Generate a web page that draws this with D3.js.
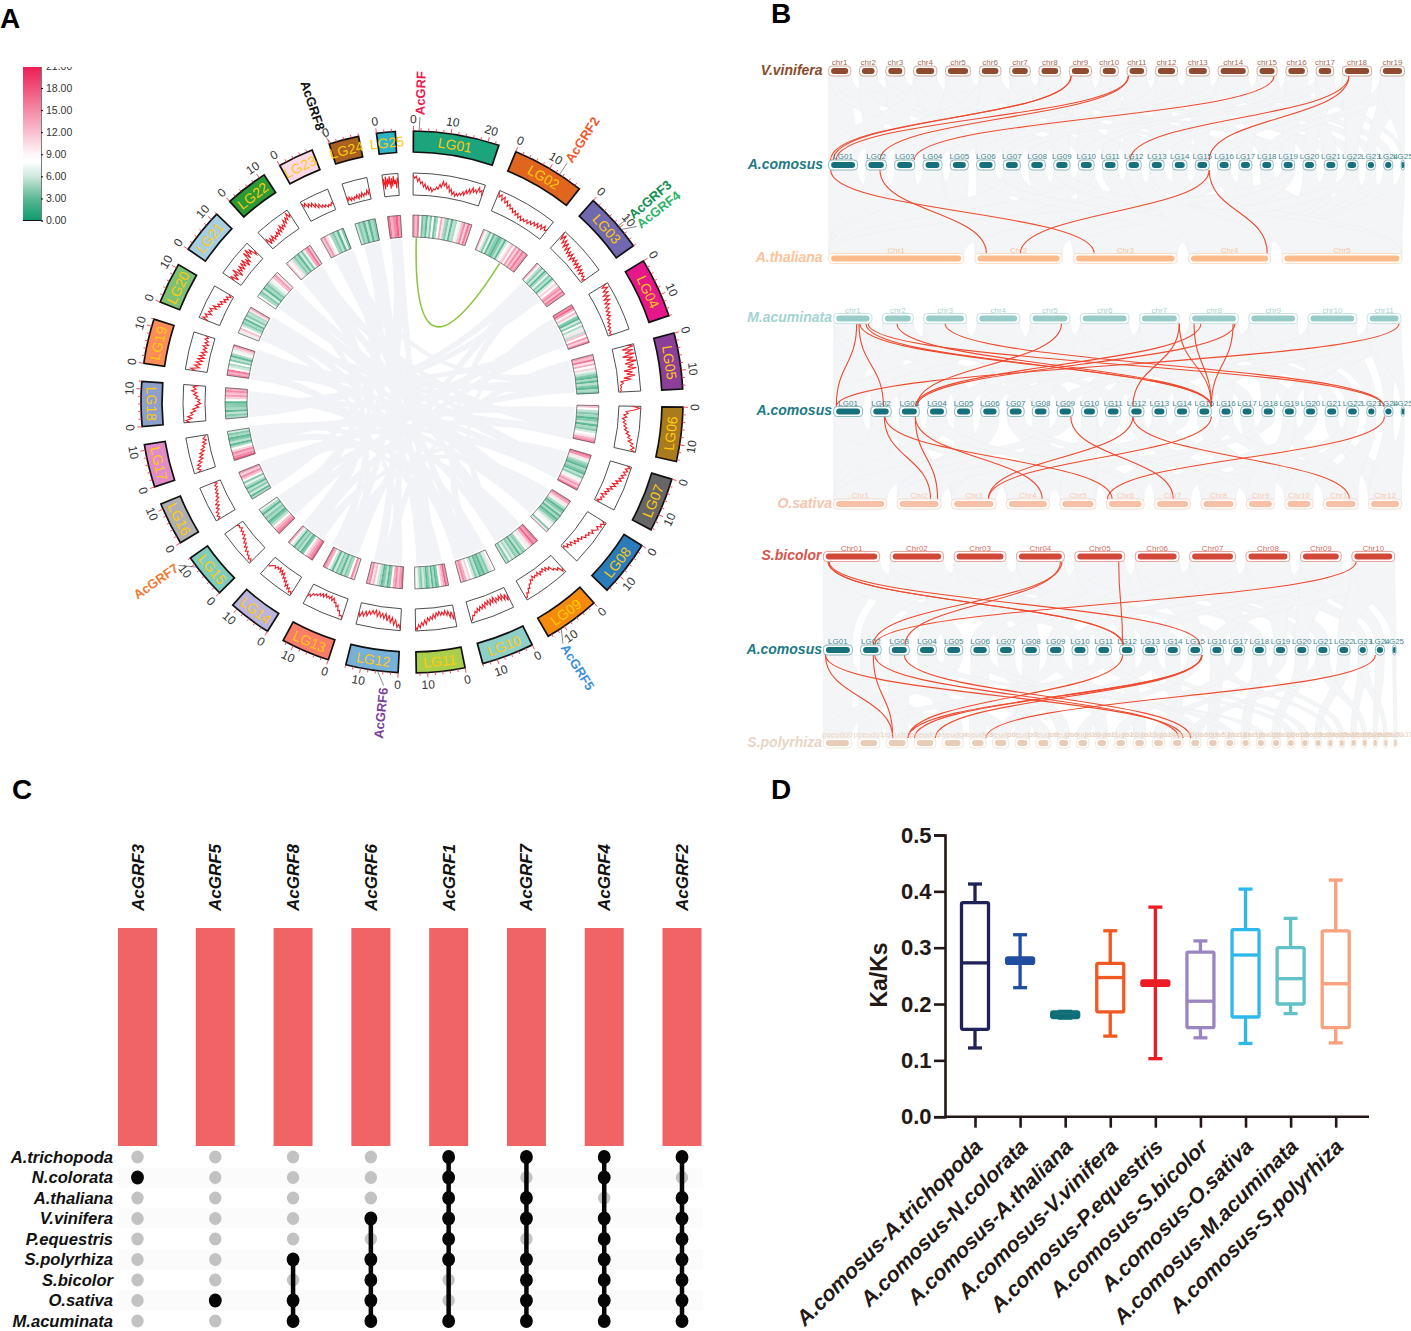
<!DOCTYPE html>
<html><head><meta charset="utf-8">
<script src="https://cdn.jsdelivr.net/npm/d3@7/dist/d3.min.js"></script>
<style>html,body{margin:0;background:#fff}svg{display:block}text{font-family:"Liberation Sans",Arial,sans-serif}</style>
</head><body><svg id="c" width="1411" height="1331"></svg>
<script>
// ---------- Panel A data ----------
const lgNames=["LG01","LG02","LG03","LG04","LG05","LG06","LG07","LG08","LG09","LG10","LG11","LG12","LG13","LG14","LG15","LG16","LG17","LG18","LG19","LG20","LG21","LG22","LG23","LG24","LG25"];
const lgLengths=[23,19.5,16,16,15,14.5,14.5,15,15,14,13,14,13,11.5,12,11.5,11.5,12,12,11,12,11.5,9.5,8,5];
const lgColors=["#1ca47c","#e0651e","#7068b0","#e5178b","#8a3f98","#aa7a1e","#666666","#2a7cba","#f58a0c","#8ed0c8","#a9cf4d","#77b0d8","#f97d68","#bcb5dc","#7fcdbd","#b0b0b0","#e08cc8","#8da0cb","#fc8d59","#7dc274","#a6cee3","#2a9a35","#fcd9e8","#a8611f","#2cb4c4"];
const legendTicks=[0,3,6,9,12,15,18,21];
const heatStops=[0,3,6,8,9,12,15,18,21];
const heatColors=["#0c9a6b","#5cb994","#cfe9de","#ffffff","#fff6f8","#f8bfd0","#f48aa6","#f0527c","#ec1c4f"];
const redTrack=[
[9,7.5,8.5,6,7.5,5,6,3.5,5,2.5,4,2,3.5,1.5,3,2.5,4,3,5.5,4,7,5,6.5,4,5.5,2.5,4,1.5,3,1,2.5,1.5,3,2,4,2.5,5,3.5,6,4,7,5,6.5,5,8,6,7,4.5],
[9.5,7,8.5,6,8,5.5,7,4.5,6,4,5,3,4.5,2.5,4,2,3.5,1.5,3,2,3.5,2,4,2.5,4.5,3,5,3,5.5,3.5,6,4,5],
[9.5,6,9,5,7.5,4,7,3.5,6,3,5,2.5,5,2,4.5,2.5,4.5,2,4,1.5,4,1.5,3.5,1,3,1.5,2.5,.5,2],
[9,6.5,9,6,8,5,7.5,4.5,7,4,6,3.5,5,3,4.5,2.5,4,2,3,1.5,2.5,1,2,.5,1.5,.5,1.5],
[7,9.5,4,9,5,9.5,3.5,8.5,5,9.5,4,8,5,9,3,7,4,8,2.5,6,1,2,.5,1,.5,.8,.3],
[6,9.5,7,3,4,2,3.5,1.5,3,2,3.5,2.5,4,3,5,4,6,5,7,5.5,8,7,9,7.5,9.5],
[8,9.5,7.5,9,7,8.5,6.5,8,6,7.5,5,6.5,4,6,3.5,5,2.5,4,2,3.5,1,3,1.5,2.5,.5,2],
[8,9.5,8,9,7,8.5,7.5,6,7.5,5.5,6.5,5,6,4,5,3,4.5,2.5,4,1.5,3,1,2.5,.5,1.5],
[7.5,9,6,7,5,5.5,3,4,2,3.5,1.5,3,2,3.5,1.5,3,2,3,1.5,3.5,2.5,4.5,4,6,5.5,7.5,7,9,8.5],
[3,6,2.5,5,2,4.5,2,4,2.5,4.5,1.5,4,2,4.5,2,4,2.5,5,3,5,3.5,5.5,4,6,5,7,6.5,8.5,9],
[3,6.5,2.5,5,2,4,1.5,3.5,2,3.5,1.5,3.5,2,4.5,2.5,5,3.5,5.5,4,7,5,7.5,6,8.5,7,9.5,8],
[9.5,7,8.5,5,7.5,4,6.5,3,6,2.5,5,2.5,4.5,2,4.5,1.5,3.5,2,4,2.5,5,3,5.5,3.5,6,4],
[9.5,8,8.5,6,6.5,4,5,3,3.5,1.5,3,1,2.5,1.5,2.5,1,3,1.5,3,2,3.5,3,4,3.5,5.5,4.5,6],
[9.5,8,9,7,8,6,7.5,5,6,4,5,2.5,4,2,3.5,1.5,3,2,3.5,2.5,3,3.5,4.5,4],
[9.5,8,9,7.5,8,6.5,7.5,5.5,6.5,4.5,5.5,3.5,4.5,2.5,3.5,2,3,1.5,2.5,2,3],
[9,7.5,8.5,7,8,6,7,5,6.5,4.5,5.5,3.5,4.5,3,4,2.5,3.5,2,3,1.5,3],
[8,6.5,8,6,7.5,5,6.5,4,5.5,3.5,5,2.5,4,2,3,1,2.5,.5,2,1,.5],
[7,9,6,8,5.5,6.5,4,5.5,2.5,4,1.5,3,2,4,3,5,3.5,6,4,5.5,3],
[5,7.5,3.5,6,3,5.5,2.5,5,2,4.5,2,4,1.5,3.5,2,4,1.5,3.5,2,4,2.5,4],
[5.5,8.5,6.5,8,5,7,5.5,7,4,6,3,4.5,2.5,4,1.5,3,1,2.5,.5,2],
[3.5,6,2,5,3.5,7,1.5,5,3,5.5,2.5,6,3,6.5,2,5,3,8,4,8.5,5,7,3,5],
[3,5,1.5,4,2,4.5,2,3.5,2.5,4.5,2.5,5,3,6,3.5,5.5,4,7,5,7.5,6,9,6.5,8],
[9,7,8.5,6,7.5,5.5,7,4.5,6,3.5,5,3,4,2.5,3.5,2,3,2,3.5,2.5],
[3.5,1.5,3,1,2.5,1,2.5,1.5,3,1,3,1.5,3.5,1.5,3,2,4,2,4.5],
[5,8,3,9,4,8,5,9,3,8,4,9,5,7,3,8,5]];
const heatBins=[
[14,12,16,9,3.5,5,3,6,4,8,3.5,5,8,13,10,5,4,6,3,5.5,5,9,7,12,15,11,16,13],
[12,9,6,4,7,3,5,4,3,4,5.5,3,6,8,10,12,9,14,11,15,12,16,13,15],
[13,9,5.5,4,6,3,5,7,4,5.5,3,6,9,11,8,13,15,12,16,14],
[15,17,13,9,12,7,4,3,6,4,8,5,7,10,5.5,12,8,14,11,15],
[14,12,16,10,13,8,11,7,5.5,4,3,5,3,5.5,4,3,5,4],
[12,8,5.5,4,5,3,4,5.5,3,5,4,6,8,10,13,15],
[16,14,10,7,5,4,3,5,4,3,5.5,4,7,9,11,14,12,16],
[15,13,10,7,5,3,4,5.5,3,5,3,4,5.5,7,9,8,4,10],
[16,14,17,13,10,7,9,5,4,5.5,3,5,4,6,5,7,4,5.5],
[8,10,6,4,5,3,4,3,5.5,4,6,8,11,9,13,15,12],
[14,17,13,11,8,4,3,5,3,5.5,4,3,5,6,4,5,7,9],
[16,14,12,15,13,9,4,3,5.5,4,3,5,6,9,12,10,15,13],
[11,15,8,5,4,5.5,3,5,4,6,3,5.5,8,13,15],
[17,15,13,11,8,4,3,5.5,4,5,3,6,9,13],
[16,14,12,9,5.5,4,3,5,4,5.5,3,5,7],
[5,3,6,4,5.5,3,5,7,4,9,12,15,11,14],
[17,15,13,15,11,8,5,3,5.5,4,3,5,4,6],
[5,4,5.5,3,5,4,4,3,8,11,14,12,15,13],
[15,13,16,9,6,5,8,4,5.5,3,5,9,7,11,14],
[7,10,12,8,5.5,4,5,3,6,4,5.5,5,10,13],
[8,5,4,6,3,5,4,5.5,7,9,12,14,10],
[11,8,10,5.5,4,5,3,6,4,7,13,16,12],
[12,14,10,8,5,4,5.5,3,7,4],
[6,4,5,3,5.5,3,5,4],
[16,13,15,17,14]];
const ribbons=[[2,7,9,6],[3,12,13,8],[24,3,10,5],[23,4,14,7],[2,5,12,4],[2,10,17,5],[3,3,8,9],[3,9,15,5],[4,2,11,7],[4,11,19,4],[5,3,16,6],[5,10,21,6],[6,4,12,10],[6,11,18,7],[7,3,13,3],[7,10,20,5],[8,3,15,9],[8,11,22,4],[9,2,17,9],[9,11,19,8],[10,3,16,3],[10,10,21,2],[11,3,18,2],[11,11,23,4],[12,6,19,3],[12,12,20,9],[13,6,22,7],[13,10,24,2],[14,3,21,9],[14,10,4,12],[15,2,23,3],[15,10,5,12],[16,9,6,12],[17,2,2,3],[17,8,7,12],[18,4,3,12],[18,10,4,8],[19,6,5,7],[20,3,6,8],[20,10,7,7],[21,5,8,7],[22,3,9,9],[22,8,10,7],[23,6,11,5],[24,3,12,8],[8,12,18,11],[9,12,16,10],[3,6,14,3],[5,13,17,7],[7,12,19,10],[4,6,22,5],[6,8,21,8]];
const greenLink=[0,1.5,1,12.2];
const geneNames=["AcGRF","AcGRF2","AcGRF3","AcGRF4","AcGRF5","AcGRF6","AcGRF7","AcGRF8"];
const geneChrom=[0,1,2,2,8,11,14,23];
const genePos=[1.5,13,9.4,10.6,11,5.5,9,0.5];
const geneLabelAngle=[1.6,33,49.6,52,148,185.7,235,341.5];
const geneColors=["#ee1c4f","#f0582c","#0e8f4f","#2db36a","#3d8fd8","#7c3f9d","#ee7b30","#111111"];

// ---------- Panel B data ----------
const vvLen=[22,17.5,19,23,25,21.5,20.5,21.5,22,18,19.5,22,23,30,20,21.5,17.5,29,24];
const acLen=[29,20.5,20,19,18,18.4,17,16.7,16.3,15.8,15.4,15,14.5,14.5,14,13,13,13,13,13,13,12.4,9,9,3.4];
const atLen=[135,87,103.5,82,120];
const maLen=[38.5,31,43,43,40,49,40,49,49,49,34];
const osLen=[53,44,44.5,43,36,37.7,36,35,28,28,34.7,33];
const sbLen=[56.5,53.5,52,48,50,44,46,44,41,43];
const spLen=[27,21,21,20.5,20,16,15.5,14,14,12.5,12,12,12,12,12,11.5,11,10.5,9.5,8.5,8.5,8.5,7.5,7,6,5,5,5,4,4,3.5,3];
const vvNames=d3.range(1,20).map(i=>"chr"+i);
const acNames=lgNames;
const atNames=["Chr1","Chr2","Chr3","Chr4","Chr5"];
const maNames=d3.range(1,12).map(i=>"chr"+i);
const osNames=d3.range(1,13).map(i=>"Chr"+i);
const sbNames=["Chr01","Chr02","Chr03","Chr04","Chr05","Chr06","Chr07","Chr08","Chr09","Chr10"];
const spNames=d3.range(0,32).map(i=>"pseudo"+i);
const linkVvAc=[[8,.08,0,.07],[8,.08,0,.16],[10,.07,0,.26],[10,.07,1,.69],[14,.85,2,.98],[17,.22,11,.26],[17,.22,14,1]];
const linkAcAt=[[0,.07,2,.2],[1,.69,1,.13],[14,1,1,.52],[14,1,3,.96]];
const linkMaAc=[[0,.6,0,.09],[0,.66,1,.62],[0,.68,14,1],[0,.84,14,1],[1,.47,14,1],[0,.9,23,0],[2,.5,23,0],[4,.79,2,.87],[6,1,11,.26],[6,1,14,1],[7,.09,14,1],[7,.89,14,1],[7,.23,2,.8],[7,.93,2,.87],[10,.94,0,.09]];
const linkAcOs=[[1,.66,1,.76],[1,.7,5,.15],[2,.8,1,.92],[2,.8,3,.83],[8,.84,6,.52],[11,.26,2,.83],[11,.26,10,.75],[14,1,2,.83],[23,.05,5,.03]];
const linkSbAc=[[0,.08,11,.26],[0,.1,14,.84],[0,.09,11,.2],[3,.95,1,.62],[3,.92,2,.79],[4,.88,11,.2],[9,.1,1,.69]];
const linkAcSp=[[0,.07,2,.3],[0,.07,15,1],[1,.62,2,.3],[1,.69,15,.62],[2,.75,16,.1],[11,.2,2,1],[14,1,2,1],[14,.96,3,0],[14,.98,3,.98],[23,0,5,1]];
const grayVvAc=[[0,0],[0,3],[0,8],[1,1],[1,5],[1,11],[2,2],[2,6],[2,14],[3,0],[3,4],[3,9],[4,3],[4,7],[4,16],[5,1],[5,5],[5,12],[6,6],[6,10],[6,18],[7,2],[7,8],[7,15],[8,0],[8,9],[8,13],[9,4],[9,11],[9,20],[10,1],[10,10],[10,17],[11,7],[11,12],[11,21],[12,5],[12,14],[12,19],[13,3],[13,13],[13,22],[14,9],[14,16],[14,23],[15,11],[15,18],[15,20],[16,6],[16,19],[16,24],[17,12],[17,15],[17,21],[18,17],[18,22],[18,24]];
const grayAcAt=[[0,0],[1,0],[2,0],[3,1],[4,0],[5,1],[6,0],[7,2],[8,1],[9,2],[10,3],[11,1],[12,2],[13,3],[14,2],[15,4],[16,3],[17,4],[18,2],[19,4],[20,3],[21,4],[22,4],[23,4],[24,4],[3,0],[6,2],[9,0],[12,4],[15,1],[18,0],[21,2],[5,3],[8,4],[11,3]];
const grayMaAc=[[0,0],[0,2],[0,7],[1,1],[1,4],[1,10],[2,2],[2,3],[2,8],[3,0],[3,5],[3,12],[4,3],[4,6],[4,14],[5,1],[5,7],[5,11],[5,16],[6,4],[6,9],[6,13],[6,18],[7,5],[7,10],[7,15],[7,20],[8,6],[8,12],[8,17],[8,21],[9,8],[9,14],[9,19],[9,22],[10,11],[10,18],[10,23],[10,24]];
const grayAcOs=[[0,0],[0,2],[1,0],[1,4],[2,1],[2,3],[3,0],[4,2],[5,1],[6,5],[7,3],[8,0],[9,6],[10,2],[11,7],[12,4],[13,1],[14,8],[15,5],[16,9],[17,3],[18,10],[19,6],[20,11],[21,7],[22,10],[23,11],[24,11],[3,5],[6,8],[9,4],[12,9],[15,10],[18,8],[21,9]];
const graySbAc=[[0,0],[0,4],[0,9],[1,1],[1,6],[1,13],[2,2],[2,7],[2,15],[3,3],[3,10],[3,12],[4,5],[4,11],[4,17],[5,8],[5,14],[5,19],[6,6],[6,16],[6,20],[7,9],[7,18],[7,22],[8,12],[8,19],[8,23],[9,15],[9,21],[9,24]];
const grayAcSp=[[0,0],[0,3],[1,1],[1,6],[2,2],[2,8],[3,4],[4,0],[5,5],[6,9],[7,7],[8,3],[9,11],[10,1],[11,13],[12,6],[13,15],[14,10],[15,17],[16,12],[17,19],[18,14],[19,21],[20,16],[21,24],[22,27],[23,29],[24,31],[5,18],[10,22],[15,25],[20,28],[3,20],[8,16],[12,23],[17,26],[22,30]];

// ---------- Panel C data ----------
const upGenes=["AcGRF3","AcGRF5","AcGRF8","AcGRF6","AcGRF1","AcGRF7","AcGRF4","AcGRF2"];
const upBars=[1,1,1,1,1,1,1,1];
const upSpecies=["A.trichopoda","N.colorata","A.thaliana","V.vinifera","P.equestris","S.polyrhiza","S.bicolor","O.sativa","M.acuminata"];
const upMembers=[[1],[7],[5,7,8],[3,5,6,7,8],[0,1,2,3,4,5,8],[0,2,3,5,6,7,8],[0,1,3,4,5,6,7,8],[0,2,3,4,5,6,7,8]];

// ---------- Panel D data ----------
const kaNames=["A.comosus-A.trichopoda","A.comosus-N.colorata","A.comosus-A.thaliana","A.comosus-V.vinifera","A.comosus-P.equestris","A.comosus-S.bicolor","A.comosus-O.sativa","A.comosus-M.acuminata","A.comosus-S.polyrhiza"];
const kaMin=[.122,.229,.175,.143,.103,.14,.13,.183,.131];
const kaQ1=[.155,.272,.176,.186,.233,.158,.177,.2,.158];
const kaMed=[.273,.277,.181,.247,.237,.205,.287,.245,.236];
const kaQ3=[.38,.282,.186,.272,.241,.292,.332,.3,.33];
const kaMax=[.413,.323,.187,.33,.372,.312,.404,.352,.42];
const kaColors=["#1f2258","#1f4e9f","#0f6e78","#f05a22","#ed1c24","#9b84c2","#2fb8ec","#62c1c6","#f9a07c"];

const svg=d3.select("#c");
const letters=[["A",0,28],["B",771,23],["C",12,799],["D",771,799]];
svg.selectAll("text.pl").data(letters).join("text").attr("class","pl").attr("x",d=>d[1]).attr("y",d=>d[2]).attr("font-size",28).attr("font-weight","bold").text(d=>d[0]);

// ---------- Panel A ----------
(function(){
const defs=svg.append("defs");
defs.append("clipPath").attr("id","aclip").append("rect").attr("x",0).attr("y",67).attr("width",740).attr("height",700);
const A=svg.append("g").attr("clip-path","url(#aclip)");
const cx=412,cy=402;
const gap=4.8;
const total=d3.sum(lgLengths)+gap*lgLengths.length;
const deg=d3.scaleLinear().domain([0,total]).range([0.3,360.3]);
const starts=Array.from(d3.cumsum([0].concat(lgLengths.map(l=>l+gap))));
const ang=(i,p)=>deg(starts[i]+p);
const rad=a=>a*Math.PI/180;
const pol=(a,r)=>[cx+r*Math.sin(rad(a)),cy-r*Math.cos(rad(a))];
const heat=d3.scaleLinear().domain(heatStops).range(heatColors);
const g=A.append("g").attr("transform",`translate(${cx},${cy})`);
const arc=d3.arc();
const rib=d3.ribbon().radius(163);
const rw=2.2;
g.selectAll("path.rb").data(ribbons).join("path").attr("class","rb").attr("fill","#f2f3f7")
 .attr("d",d=>rib({source:{startAngle:rad(ang(d[0],d[1]-rw)),endAngle:rad(ang(d[0],d[1]+rw))},target:{startAngle:rad(ang(d[2],d[3]-rw)),endAngle:rad(ang(d[2],d[3]+rw))}}));
const [p0,p1]=[pol(ang(greenLink[0],greenLink[1]),164),pol(ang(greenLink[2],greenLink[3]),164)];
A.append("path").attr("fill","none").attr("stroke","#8cc63f").attr("stroke-width",1.6).attr("d",`M${p0}Q${cx},${cy} ${p1}`);
lgNames.forEach((name,i)=>{
  const s=rad(ang(i,0)),e=rad(ang(i,lgLengths[i])),a0=ang(i,0),a1=ang(i,lgLengths[i]),mid=(a0+a1)/2;
  const bins=heatBins[i],bx=d3.scaleLinear().domain([0,bins.length]).range([s,e]);
  g.selectAll(null).data(bins).join("path").attr("fill",d=>heat(d)).attr("d",(d,k)=>arc({innerRadius:165,outerRadius:187,startAngle:bx(k),endAngle:bx(k+1)+.001}));
  g.append("path").attr("fill","none").attr("stroke","#333").attr("stroke-width",.6).attr("d",arc({innerRadius:165,outerRadius:187,startAngle:s,endAngle:e}));
  const vals=redTrack[i],tx=d3.scaleLinear().domain([0,vals.length-1]).range([s,e]),ry=d3.scaleLinear().domain([0,10]).range([208,229]);
  g.append("path").attr("fill","none").attr("stroke","#222").attr("stroke-width",.8).attr("d",arc({innerRadius:207,outerRadius:229,startAngle:s,endAngle:e}));
  g.append("path").attr("fill","none").attr("stroke","#ee1c25").attr("stroke-width",1.1).attr("d",d3.lineRadial().angle((d,k)=>tx(k)).radius(d=>ry(d))(vals));
  g.append("path").attr("fill",lgColors[i]).attr("stroke","#111").attr("stroke-width",1.7).attr("d",arc({innerRadius:250,outerRadius:271,startAngle:s,endAngle:e}));
  const tk=d3.range(0,lgLengths[i]+.01,2);
  A.selectAll(null).data(tk).join("line").attr("stroke","#ee3a50").attr("stroke-width",.9)
   .attr("x1",d=>pol(ang(i,d),271)[0]).attr("y1",d=>pol(ang(i,d),271)[1]).attr("x2",d=>pol(ang(i,d),d%10==0?276:274)[0]).attr("y2",d=>pol(ang(i,d),d%10==0?276:274)[1]);
  const flip=x=>(x>90&&x<270)?x-180:x;
  A.selectAll(null).data(tk.filter(d=>d%10==0)).join("text").attr("font-size",12).attr("fill","#333").attr("text-anchor","middle").attr("dy","0.35em")
   .attr("transform",d=>{const a=ang(i,d),p=pol(a,283);return `translate(${p}) rotate(${flip(a)})`}).text(d=>d);
  const lp=pol(mid,260.5);
  A.append("text").attr("font-size",14).attr("fill","#ffc90e").attr("text-anchor","middle").attr("dy","0.36em")
   .attr("transform",`translate(${lp}) rotate(${flip(mid)})`).text(name);
});
geneNames.forEach((n,i)=>{
  const a=ang(geneChrom[i],genePos[i]),la=geneLabelAngle[i],q0=pol(a,271),q1=pol(la,285),t=pol(la,287);
  A.append("line").attr("stroke","#555").attr("stroke-width",.7).attr("x1",q0[0]).attr("y1",q0[1]).attr("x2",q1[0]).attr("y2",q1[1]);
  const left=la>180;
  A.append("text").attr("font-size",13).attr("font-weight","bold").attr("fill",geneColors[i]).attr("dy","0.35em")
   .attr("text-anchor",left?"end":"start").attr("transform",`translate(${t}) rotate(${left?la+90:la-90})`).text(n);
});
const ly=d3.scaleLinear().domain([0,21]).range([220.5,66]);
const grad=defs.append("linearGradient").attr("id","lg").attr("x1",0).attr("x2",0).attr("y1",1).attr("y2",0);
heatStops.forEach((v,k)=>grad.append("stop").attr("offset",v/21).attr("stop-color",heatColors[k]));
A.append("rect").attr("x",23).attr("y",ly(21)).attr("width",18).attr("height",ly(0)-ly(21)).attr("fill","url(#lg)");
const ax=A.append("g").attr("transform","translate(41,0)").call(d3.axisRight(ly).tickValues(legendTicks).tickFormat(d3.format(".2f")).tickSize(2).tickPadding(3));
ax.select(".domain").attr("stroke","#222").attr("stroke-width",.6);
ax.selectAll("text").attr("font-size",10.5).attr("fill","#333");
A.append("line").attr("x1",23).attr("x2",41).attr("y1",220.5).attr("y2",220.5).attr("stroke","#111").attr("stroke-width",1);
})();

// ---------- Panel B ----------
(function(){
const B=svg.append("g");
const mk=(names,len,x0,x1,y,gap,inner,outer,label,tg)=>{
  const tot=d3.sum(len)+gap*(len.length-1);
  const sc=d3.scaleLinear().domain([0,tot]).range([x0,x1]);
  const st=Array.from(d3.cumsum([0].concat(len.map(l=>l+gap))));
  return {names,len,sc,st,y,inner,outer,label,tg,pos:(c,f)=>sc(st[c]+f*len[c])};
};
const com={inner:"#16707c",outer:"#7fb2b8",label:"#1e7a85"};
const rows={
 vv:mk(vvNames,vvLen,828.6,1404.5,71,8.7,"#8f4a2f","#c9a090","#8a4a2a",6),
 ac1:mk(acNames,acLen,828.6,1404.5,165,8.4,com.inner,com.outer,com.label,5.5),
 at:mk(atNames,atLen,828.6,1402,258.5,11.4,"#fdbb8c","#fcd9bf","#fcc39a",6),
 ma:mk(maNames,maLen,833.7,1401,318.5,10.5,"#96cbc8","#c0e0de","#a5d3d1",1.7),
 ac2:mk(acNames,acLen,833.7,1404.5,411.5,8.2,com.inner,com.outer,com.label,1.7),
 os:mk(osNames,osLen,833.7,1401.5,504,10.5,"#f7c0a6","#f9d5c5","#f5c5ae",1.7),
 sb:mk(sbNames,sbLen,823.4,1394.7,556.5,10.6,"#d3473a","#e59a90","#d9534a",2),
 ac3:mk(acNames,acLen,823.4,1396,650,8.2,com.inner,com.outer,com.label,1.4),
 sp:mk(spNames,spLen,823.4,1397,743,6.2,"#e7cdb8","#f0e3d8","#e8d5c5",1.4)};
const titles=[["vv","V.vinifera"],["ac1","A.comosus"],["at","A.thaliana"],["ma","M.acuminata"],["ac2","A.comosus"],["os","O.sativa"],["sb","S.bicolor"],["ac3","A.comosus"],["sp","S.polyrhiza"]];
const pairs=[["vv","ac1",grayVvAc,linkVvAc],["ac1","at",grayAcAt,linkAcAt],["ma","ac2",grayMaAc,linkMaAc],["ac2","os",grayAcOs,linkAcOs],["sb","ac3",graySbAc,linkSbAc],["ac3","sp",grayAcSp,linkAcSp]];
pairs.forEach(([a,b,gr])=>{
  const r0=rows[a],r1=rows[b],y0=r0.y+5,y1=r1.y-5,m=(y0+y1)/2;
  B.append("g").selectAll("path").data(gr).join("path").attr("fill","#f4f5f7").attr("stroke","#e9ebee").attr("stroke-width",.4).attr("d",d=>{
    const a0=r0.pos(d[0],0),a1=r0.pos(d[0],1),b0=r1.pos(d[1],0),b1=r1.pos(d[1],1);
    return `M${a0},${y0}C${a0},${m} ${b0},${m} ${b0},${y1}L${b1},${y1}C${b1},${m} ${a1},${m} ${a1},${y0}Z`;
  });
});
pairs.forEach(([a,b,gr,lk])=>{
  const r0=rows[a],r1=rows[b],y0=r0.y+5,y1=r1.y-5,m=(y0+y1)/2;
  B.append("g").selectAll("path").data(lk).join("path").attr("fill","none").attr("stroke","#ee4a2e").attr("stroke-width",1.1).attr("d",d=>{
    const x0=r0.pos(d[0],d[1]),x1=r1.pos(d[2],d[3]);
    return `M${x0},${y0}C${x0},${m} ${x1},${m} ${x1},${y1}`;
  });
});
Object.values(rows).forEach(r=>{
  const g=B.append("g");
  r.names.forEach((n,i)=>{
    const x0=r.pos(i,0),W=r.pos(i,1)-x0,ins=Math.min(2.5,W*.15);
    g.append("rect").attr("x",x0).attr("y",r.y-5).attr("width",W).attr("height",10).attr("rx",3.5).attr("fill","#fff").attr("stroke",r.outer).attr("stroke-width",.9);
    g.append("rect").attr("x",x0+ins).attr("y",r.y-3).attr("width",W-2*ins).attr("height",6).attr("rx",Math.min(3,(W-2*ins)/2)).attr("fill",r.inner);
    g.append("text").attr("x",x0+W/2).attr("y",r.y-5.6).attr("text-anchor","middle").attr("font-size",8).attr("fill",r.inner).attr("fill-opacity",.85).text(n);
  });
});
B.selectAll("text.rt").data(titles).join("text").attr("class","rt").attr("x",d=>rows[d[0]].pos(0,0)-rows[d[0]].tg).attr("y",d=>rows[d[0]].y+3.5)
 .attr("text-anchor","end").attr("font-size",14).attr("font-weight","bold").attr("font-style","italic").attr("fill",d=>rows[d[0]].label).text(d=>d[1]);
})();

// ---------- Panel C ----------
(function(){
const C=svg.append("g");
const x=d3.scalePoint().domain(upGenes).range([137.5,682]);
const barW=39;
const by=d3.scaleLinear().domain([0,1]).range([1146,928]);
const rowY=d3.scalePoint().domain(upSpecies).range([1157,1321]);
C.selectAll("rect.st").data(upSpecies.filter((d,i)=>i%2==1)).join("rect").attr("class","st").attr("x",118).attr("width",585).attr("y",d=>rowY(d)-10).attr("height",20).attr("fill","#fbfbfb");
C.selectAll("rect.bar").data(upBars).join("rect").attr("class","bar").attr("x",(d,i)=>x(upGenes[i])-barW/2).attr("width",barW).attr("y",d=>by(d)).attr("height",d=>by(0)-by(d)).attr("fill","#f06466");
C.selectAll("text.gn").data(upGenes).join("text").attr("class","gn").attr("font-size",17).attr("font-weight","bold").attr("font-style","italic").attr("fill","#111")
 .attr("transform",d=>`translate(${x(d)+6},911) rotate(-90)`).text(d=>d);
C.selectAll("text.sp").data(upSpecies).join("text").attr("class","sp").attr("x",113).attr("y",d=>rowY(d)+5.5).attr("text-anchor","end").attr("font-size",16.6).attr("font-weight","bold").attr("font-style","italic").attr("fill","#111").text(d=>d);
upGenes.forEach((g,j)=>{
  upSpecies.forEach(s=>C.append("ellipse").attr("cx",x(g)).attr("cy",rowY(s)).attr("rx",6.2).attr("ry",6.5).attr("fill","#c2c2c2"));
  const m=upMembers[j];
  if(m.length>1)C.append("line").attr("x1",x(g)).attr("x2",x(g)).attr("y1",rowY(upSpecies[d3.min(m)])).attr("y2",rowY(upSpecies[d3.max(m)])).attr("stroke","#050505").attr("stroke-width",4.5);
  m.forEach(k=>C.append("ellipse").attr("cx",x(g)).attr("cy",rowY(upSpecies[k])).attr("rx",6.4).attr("ry",7).attr("fill","#050505"));
});
})();

// ---------- Panel D ----------
(function(){
const D=svg.append("g");
const y=d3.scaleLinear().domain([0,.5]).range([1116.7,835]);
const x=d3.scalePoint().domain(kaNames).range([975,1335.7]);
const ya=D.append("g").attr("transform","translate(945,0)").call(d3.axisLeft(y).tickValues([0,.1,.2,.3,.4,.5]).tickFormat(d3.format(".1f")).tickSize(11).tickPadding(2.5));
const xa=D.append("g").attr("transform","translate(0,1116.7)").call(d3.axisBottom(x).tickSize(11).tickFormat(""));
xa.select(".domain").attr("d","M945,0H1369");
[ya,xa].forEach(a=>{a.selectAll(".domain,line").attr("stroke","#231815").attr("stroke-width",2.6);});
ya.selectAll("text").attr("font-size",22).attr("font-weight","bold").attr("fill","#231815");
D.append("text").attr("transform","translate(887,975) rotate(-90)").attr("text-anchor","middle").attr("font-size",23).attr("font-weight","bold").attr("fill","#231815").text("Ka/Ks");
kaNames.forEach((n,i)=>{
  const cx=x(n),g=D.append("g").attr("stroke",kaColors[i]).attr("stroke-width",3.3).attr("fill","none").attr("stroke-linejoin","round");
  g.append("line").attr("x1",cx).attr("x2",cx).attr("y1",y(kaMin[i])).attr("y2",y(kaQ1[i]));
  g.append("line").attr("x1",cx).attr("x2",cx).attr("y1",y(kaQ3[i])).attr("y2",y(kaMax[i]));
  [kaMin[i],kaMax[i]].forEach(v=>g.append("line").attr("x1",cx-7).attr("x2",cx+7).attr("y1",y(v)).attr("y2",y(v)));
  g.append("rect").attr("x",cx-13.5).attr("width",27).attr("y",y(kaQ3[i])).attr("height",y(kaQ1[i])-y(kaQ3[i])).attr("rx",1.5);
  g.append("line").attr("x1",cx-13.5).attr("x2",cx+13.5).attr("y1",y(kaMed[i])).attr("y2",y(kaMed[i]));
  D.append("text").attr("transform",`translate(${cx+9},1148) rotate(-45)`).attr("text-anchor","end").attr("font-size",21.3).attr("font-weight","bold").attr("font-style","italic").attr("fill","#231815").text(n);
});
})();
</script></body></html>
